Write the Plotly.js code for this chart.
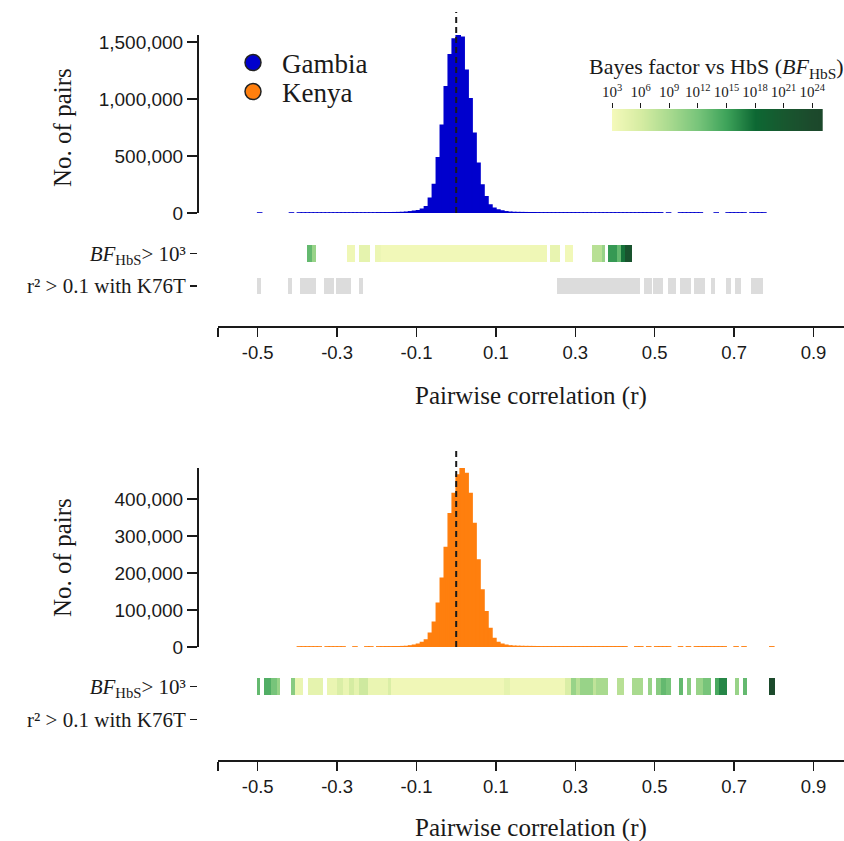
<!DOCTYPE html>
<html><head><meta charset="utf-8">
<script src="https://cdn.plot.ly/plotly-3.0.1.min.js"></script>
<style>html,body{margin:0;padding:0;background:#fff}</style>
</head><body><div id="chart" style="width:844px;height:841px"></div>
<script>
// ---------- DATA ----------
const binWidth = 0.01;

// Gambia histogram (bin left edges, counts)
const gambiaBins = [-0.50,-0.42,
 -0.40,-0.39,-0.38,-0.37,-0.36,-0.35,-0.34,-0.33,-0.32,-0.31,
 -0.30,-0.29,-0.28,-0.27,-0.26,-0.25,-0.24,-0.23,-0.22,-0.21,
 -0.20,-0.19,-0.18,-0.17,-0.16,-0.15,-0.14,
 -0.13,-0.12,-0.11,-0.10,-0.09,-0.08,-0.07,-0.06,-0.05,-0.04,-0.03,-0.02,-0.01,
 0.00,0.01,0.02,0.03,0.04,0.05,0.06,0.07,0.08,0.09,0.10,0.11,0.12,0.13,
 0.14,0.15,0.16,0.17,0.18,0.19,0.20,
 0.21,0.22,0.23,0.24,0.25,0.26,0.27,0.28,0.29,0.30,
 0.31,0.32,0.33,0.34,0.35,0.36,0.37,0.38,0.39,0.40,0.41,0.42,0.43,0.44,0.45,
 0.46,0.47,0.48,0.49,0.50,0.51,
 0.53,
 0.56,0.57,0.58,0.59,0.60,0.61,
 0.65,
 0.68,0.69,0.70,0.71,0.72,
 0.74,0.75,0.76,0.77];
const gambiaCounts = [150,150,
 300,300,300,300,300,300,300,300,300,300,
 500,500,500,500,500,500,500,500,500,500,
 1200,1300,1500,1800,2200,2800,3800,
 6000,10000,15000,20000,32000,55000,130000,250000,485000,770000,1110000,1390000,1530000,
 1565000,1545000,1255000,1005000,700000,436000,246000,143000,70000,41000,26000,18000,10000,6000,
 4000,3200,2600,2200,1900,1600,1400,
 1000,1000,1000,1000,1000,1000,1000,1000,1000,1000,
 600,600,600,600,600,600,600,600,600,600,600,600,600,600,600,
 1000,1000,1000,1000,1000,1000,
 300,
 500,500,500,500,500,500,
 300,
 400,400,400,400,400,
 400,400,400,400];

// Kenya histogram (bin left edges, counts)
const kenyaBins = [-0.40,-0.39,
 -0.38,-0.37,-0.36,-0.35,
 -0.33,-0.32,-0.31,-0.30,-0.29,
 -0.26,
 -0.23,-0.22,
 -0.20,-0.19,-0.18,-0.17,-0.16,-0.15,-0.14,
 -0.13,-0.12,-0.11,-0.10,-0.09,-0.08,-0.07,-0.06,-0.05,-0.04,-0.03,-0.02,-0.01,
 0.00,0.01,0.02,0.03,0.04,0.05,0.06,0.07,0.08,0.09,0.10,0.11,0.12,0.13,
 0.14,0.15,0.16,0.17,0.18,0.19,0.20,
 0.21,0.22,0.23,0.24,0.25,0.26,0.27,0.28,0.29,0.30,0.31,0.32,0.33,0.34,0.35,0.36,0.37,0.38,0.39,0.40,0.41,0.42,
 0.45,0.46,
 0.48,
 0.50,0.51,0.52,0.53,
 0.56,
 0.58,
 0.60,0.61,0.62,0.63,0.64,0.65,0.66,0.67,
 0.70,
 0.72,
 0.79];
const kenyaCounts = [200,200,
 200,200,200,200,
 200,200,200,200,200,
 200,
 200,200,
 300,300,400,400,500,600,800,
 1200,2700,4500,7000,12000,19000,37000,67000,118000,186000,269000,360000,415000,
 465000,482000,469000,415000,334000,235000,154000,95000,50000,23000,12000,7000,4500,2700,
 1800,1400,1100,900,800,700,600,
 400,400,400,400,400,400,400,400,400,400,400,400,400,400,400,400,400,400,400,400,400,400,
 300,300,
 300,
 300,300,300,300,
 300,
 300,
 300,300,300,300,300,300,300,300,
 300,
 300,
 300];

// Strips: BF_HbS > 10^3 segments (start r, end r, log10 BF)
const topBfStart = [-0.375,-0.364,-0.275,-0.246,-0.205,-0.190,0.186,0.236,0.274,0.343,0.368,0.382,0.405,0.416,0.425];
const topBfEnd   = [-0.364,-0.352,-0.256,-0.216,-0.190,0.186,0.228,0.261,0.294,0.368,0.374,0.405,0.416,0.425,0.442];
const topBfLog   = [13,10,3.5,4.5,3.8,3.3,3.5,4.2,3.3,8,10,15.5,13,17.5,22];

// Strips: r^2 > 0.1 with K76T segments (Gambia)
const topR2Start = [-0.503,-0.424,-0.394,-0.333,-0.304,-0.245,0.253,0.472,0.496,0.533,0.563,0.599,0.642,0.680,0.701,0.743];
const topR2End   = [-0.492,-0.413,-0.352,-0.308,-0.264,-0.234,0.462,0.492,0.521,0.553,0.592,0.626,0.651,0.693,0.718,0.772];

// Kenya BF segments
const botBfStart = [-0.503,-0.484,-0.467,-0.452,-0.415,-0.405,-0.374,-0.325,-0.300,-0.285,-0.270,-0.258,-0.245,-0.222,-0.172,-0.165,0.120,0.136,0.275,0.290,0.303,0.311,0.345,0.353,0.404,0.444,0.483,0.504,0.517,0.529,0.561,0.581,0.603,0.621,0.651,0.663,0.701,0.722,0.789];
const botBfEnd   = [-0.495,-0.467,-0.452,-0.444,-0.405,-0.385,-0.335,-0.300,-0.285,-0.270,-0.258,-0.245,-0.222,-0.172,-0.165,0.120,0.136,0.275,0.290,0.303,0.311,0.345,0.353,0.383,0.422,0.471,0.492,0.517,0.529,0.542,0.571,0.592,0.621,0.642,0.663,0.682,0.712,0.732,0.803];
const botBfLog   = [13,14,12,10,11,4,4.5,4,5.5,4,6,4.5,6.5,4,5.5,3.4,4.5,3.4,5.5,10,8,10,7.5,9,8,9,10,11,13,12,13,11,10,12,14.5,16.5,10,13,24];

// Colour scale for log10 BF
const bfScaleZ = [3,6,9,12,15,18,21,24,25.1];
const bfScaleColors = ['#f4f9ba','#d5eca2','#a9da8f','#77c47a','#3ea35a','#0d6833','#18572f','#1c4a2c','#1c472b'];
const bfTickVals = [3,6,9,12,15,18,21,24];
const bfTickText = ['10<sup>3</sup>','10<sup>6</sup>','10<sup>9</sup>','10<sup>12</sup>','10<sup>15</sup>','10<sup>18</sup>','10<sup>21</sup>','10<sup>24</sup>'];

// Axis ticks
const xTickVals = [-0.6,-0.5,-0.3,-0.1,0.1,0.3,0.5,0.7,0.9];
const xTickText = [' ','-0.5','-0.3','-0.1','0.1','0.3','0.5','0.7','0.9'];
const gambiaYTicks = [0,500000,1000000,1500000];
const kenyaYTicks = [0,100000,200000,300000,400000];
const stripLabels = ['<i>BF</i><sub>HbS</sub>> 10³', 'r² > 0.1 with K76T'];

// ---------- STYLE / LAYOUT ----------
const W = 844, H = 841;
const px = v => v / W;
const py = v => 1 - v / H;
const SERIF = 'Liberation Serif, Times New Roman, serif';
const SANS = 'Liberation Sans, Arial, sans-serif';
const INK = '#1a1a1a';
const BLUE = '#0000cd';
const ORANGE = '#ff7f0e';
const GREY = '#dcdcdc';
const bfMin = bfScaleZ[0], bfMax = bfScaleZ[bfScaleZ.length-1];
const colorscale = bfScaleZ.map((z,i)=>[(z-bfMin)/(bfMax-bfMin), bfScaleColors[i]]);

function histTrace(bins, counts, color, xa, ya){
  return {type:'bar', x:bins, y:counts, offset:0, width:binWidth, xaxis:xa, yaxis:ya,
    marker:{color:color, line:{color:color, width:1.6}}, cliponaxis:false, showlegend:false, hoverinfo:'skip'};
}
function stripTrace(starts, ends, row, colors, xa, ya){
  return {type:'bar', orientation:'h', base:starts, x:starts.map((s,i)=>ends[i]-s), y:starts.map(()=>row),
    width:0.52, xaxis:xa, yaxis:ya, showlegend:false, hoverinfo:'skip',
    marker: Array.isArray(colors) ? {color:colors, colorscale:colorscale, cmin:bfMin, cmax:bfMax, line:{width:0}}
                                  : {color:colors, line:{width:0}}};
}

const traces = [
  histTrace(gambiaBins, gambiaCounts, BLUE, 'x', 'y'),
  stripTrace(topBfStart, topBfEnd, 1, topBfLog, 'x', 'y2'),
  stripTrace(topR2Start, topR2End, 0, GREY, 'x', 'y2'),
  histTrace(kenyaBins, kenyaCounts, ORANGE, 'x2', 'y3'),
  stripTrace(botBfStart, botBfEnd, 1, botBfLog, 'x2', 'y4'),
  {type:'heatmap', x:bfScaleZ, y:[0,1], z:[bfScaleZ, bfScaleZ], zsmooth:'best', colorscale:colorscale,
   zmin:bfMin, zmax:bfMax, showscale:false, xaxis:'x3', yaxis:'y5', hoverinfo:'skip'},
  {type:'scatter', mode:'markers', x:[null], y:[null], name:'Gambia', legend:'legend', xaxis:'x', yaxis:'y',
   marker:{size:16, color:BLUE, line:{color:'#222', width:1.5}}},
  {type:'scatter', mode:'markers', x:[null], y:[null], name:'Kenya', legend:'legend2', xaxis:'x', yaxis:'y',
   marker:{size:16, color:ORANGE, line:{color:'#222', width:1.5}}}
];

const xRange = [-0.6, -0.6 + 626/397];
function xAxis(pos){
  return {domain:[px(218),1], range:xRange, anchor:'free', position:pos, tickvals:xTickVals, ticktext:xTickText,
    ticks:'outside', ticklen:9, tickwidth:1.5, tickcolor:INK, showline:true, linewidth:1.5, linecolor:INK,
    showgrid:false, zeroline:false, tickfont:{family:SANS, size:18.5, color:INK}, fixedrange:true};
}
function histY(dom, range, tv){
  return {domain:dom, range:range, anchor:'free', position:px(197), tickvals:tv, tickformat:',',
    ticks:'outside', ticklen:10, tickwidth:1.8, tickcolor:INK, showline:true, linewidth:1.8, linecolor:INK,
    showgrid:false, zeroline:false, tickfont:{family:SANS, size:19, color:INK}};
}
function stripY(dom, range){
  return {domain:dom, range:range, anchor:'free', position:px(197), tickvals:[1,0], ticktext:stripLabels,
    ticks:'outside', ticklen:7, tickwidth:1.5, tickcolor:INK, showline:false, showgrid:false, zeroline:false,
    tickfont:{family:SERIF, size:21, color:INK}};
}

const legendBase = {xanchor:'left', yanchor:'middle', bgcolor:'rgba(0,0,0,0)', borderwidth:0,
  font:{family:SERIF, size:27, color:INK}, itemwidth:48, itemclick:false};

const layout = {
  width:W, height:H, margin:{l:0,r:0,t:0,b:0}, paper_bgcolor:'#fff', plot_bgcolor:'rgba(0,0,0,0)',
  barmode:'overlay', bargap:0, hovermode:false, showlegend:true,
  legend: Object.assign({x:px(224), y:py(63)}, legendBase),
  legend2: Object.assign({x:px(224), y:py(92)}, legendBase),
  xaxis: xAxis(py(326)),
  xaxis2: xAxis(py(760)),
  yaxis: histY([py(213), py(35)], [0, 1565000], gambiaYTicks),
  yaxis2: stripY([py(303), py(236)], [-0.523, 1.538]),
  yaxis3: histY([py(647), py(468)], [0, 484000], kenyaYTicks),
  yaxis4: stripY([py(736), py(669)], [-0.512, 1.543]),
  xaxis3: {domain:[px(612), px(822.7)], range:[bfMin, bfMax], anchor:'y5', side:'top', tickvals:bfTickVals, ticktext:bfTickText,
    ticks:'outside', ticklen:5, tickwidth:1, tickcolor:INK, showline:false, showgrid:false, zeroline:false,
    tickfont:{family:SERIF, size:15, color:INK}},
  yaxis5: {domain:[py(131), py(109)], range:[0,1], anchor:'x3', visible:false},
  shapes: [
    {type:'line', xref:'x', yref:'paper', x0:0, x1:0, y0:py(213), y1:py(12), line:{color:INK, width:2, dash:'6px,4px'}},
    {type:'line', xref:'x2', yref:'paper', x0:0, x1:0, y0:py(647), y1:py(447), line:{color:INK, width:2, dash:'6px,4px'}}
  ],
  annotations: [
    {text:'Bayes factor vs HbS (<i>BF</i><sub>HbS</sub>)', xref:'paper', yref:'paper', x:px(716), y:py(68),
     xanchor:'center', yanchor:'middle', showarrow:false, font:{family:SERIF, size:22, color:INK}},
    {text:'No. of pairs', xref:'paper', yref:'paper', x:px(62), y:py(127), textangle:-90,
     xanchor:'center', yanchor:'middle', showarrow:false, font:{family:SERIF, size:25, color:INK}},
    {text:'No. of pairs', xref:'paper', yref:'paper', x:px(62), y:py(557), textangle:-90,
     xanchor:'center', yanchor:'middle', showarrow:false, font:{family:SERIF, size:25, color:INK}},
    {text:'Pairwise correlation (r)', xref:'paper', yref:'paper', x:px(531), y:py(396),
     xanchor:'center', yanchor:'middle', showarrow:false, font:{family:SERIF, size:25, color:INK}},
    {text:'Pairwise correlation (r)', xref:'paper', yref:'paper', x:px(531), y:py(828),
     xanchor:'center', yanchor:'middle', showarrow:false, font:{family:SERIF, size:25, color:INK}}
  ]
};

Plotly.newPlot('chart', traces, layout, {displayModeBar:false, staticPlot:true});
</script></body></html>
